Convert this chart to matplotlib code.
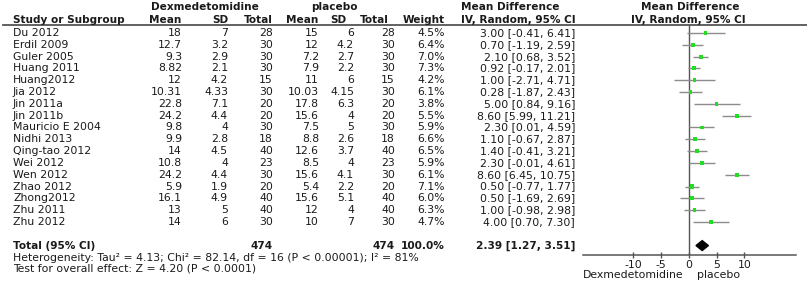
import numpy as np
import matplotlib.pyplot as plt

plt.rcParams['font.family'] = ['DejaVu Sans']
plt.rcParams['axes.unicode_minus'] = False

# 연구별 데이터
studies = ['Du 2012', 'Erdil 2009', 'Guler 2005', 'Huang 2011', 'Huang2012', 'Jia 2012',
           'Jin 2011a', 'Jin 2011b', 'Mauricio E 2004', 'Nidhi 2013', 'Qing-tao 2012',
           'Wei 2012', 'Wen 2012', 'Zhao 2012', 'Zhong2012', 'Zhu 2011', 'Zhu 2012']
dex_mean = ['18', '12.7', '9.3', '8.82', '12', '10.31', '22.8', '24.2', '9.8', '9.9',
            '14', '10.8', '24.2', '5.9', '16.1', '13', '14']
dex_sd = ['7', '3.2', '2.9', '2.1', '4.2', '4.33', '7.1', '4.4', '4', '2.8',
          '4.5', '4', '4.4', '1.9', '4.9', '5', '6']
dex_n = [28, 30, 30, 30, 15, 30, 20, 20, 30, 18, 40, 23, 30, 20, 40, 40, 30]
pla_mean = ['15', '12', '7.2', '7.9', '11', '10.03', '17.8', '15.6', '7.5', '8.8',
            '12.6', '8.5', '15.6', '5.4', '15.6', '12', '10']
pla_sd = ['6', '4.2', '2.7', '2.2', '6', '4.15', '6.3', '4', '5', '2.6',
          '3.7', '4', '4.1', '2.2', '5.1', '4', '7']
pla_n = [28, 30, 30, 30, 15, 30, 20, 20, 30, 18, 40, 23, 30, 20, 40, 40, 30]
weights = [4.5, 6.4, 7.0, 7.3, 4.2, 6.1, 3.8, 5.5, 5.9, 6.6, 6.5, 5.9, 6.1, 7.1, 6.0, 6.3, 4.7]
md = [3.00, 0.70, 2.10, 0.92, 1.00, 0.28, 5.00, 8.60, 2.30, 1.10, 1.40, 2.30, 8.60, 0.50, 0.50, 1.00, 4.00]
ci_lo = [-0.41, -1.19, 0.68, -0.17, -2.71, -1.87, 0.84, 5.99, 0.01, -0.67, -0.41, -0.01, 6.45, -0.77, -1.69, -0.98, 0.70]
ci_hi = [6.41, 2.59, 3.52, 2.01, 4.71, 2.43, 9.16, 11.21, 4.59, 2.87, 3.21, 4.61, 10.75, 1.77, 2.69, 2.98, 7.30]

# 통합 결과
total_dex, total_pla = 474, 474
total_weight = '100.0%'
pooled_md, pooled_lo, pooled_hi = 2.39, 1.27, 3.51
het_text = 'Heterogeneity: Tau² = 4.13; Chi² = 82.14, df = 16 (P < 0.00001); I² = 81%'
z_text = 'Test for overall effect: Z = 4.20 (P < 0.0001)'
ticks = [-10, -5, 0, 5, 10]

W, H = 807, 285
fs = 7.8
fsb = 7.6
tc = '#1a1a1a'
fig = plt.figure(figsize=(W / 100, H / 100), dpi=100)

# 텍스트용 축 (픽셀 좌표)
tx = fig.add_axes([0, 0, 1, 1])
tx.set_xlim(0, W)
tx.set_ylim(H, 0)
tx.axis('off')

row0, dy = 33, 11.81
bold = dict(fontweight='bold', fontsize=fsb, color=tc)
norm = dict(fontsize=fs, color=tc)

# 헤더
tx.text(205, 7, 'Dexmedetomidine', ha='center', va='center', **bold)
tx.text(334, 7, 'placebo', ha='center', va='center', **bold)
tx.text(510, 7, 'Mean Difference', ha='center', va='center', **bold)
tx.text(690, 7, 'Mean Difference', ha='center', va='center', **bold)
tx.text(13, 20, 'Study or Subgroup', ha='left', va='center', **bold)
for x, s in [(181, 'Mean'), (228, 'SD'), (273, 'Total'), (318, 'Mean'),
             (346, 'SD'), (389, 'Total'), (445, 'Weight')]:
    tx.text(x, 20, s, ha='right', va='center', **bold)
tx.text(518, 20, 'IV, Random, 95% CI', ha='center', va='center', **bold)
tx.text(688, 20, 'IV, Random, 95% CI', ha='center', va='center', **bold)
tx.plot([3, W], [24.5, 24.5], color='#555555', lw=1.3)

# 연구별 행
for i, name in enumerate(studies):
    y = row0 + i * dy
    tx.text(13, y, name, ha='left', va='center', **norm)
    tx.text(182, y, dex_mean[i], ha='right', va='center', **norm)
    tx.text(228, y, dex_sd[i], ha='right', va='center', **norm)
    tx.text(273, y, str(dex_n[i]), ha='right', va='center', **norm)
    tx.text(319, y, pla_mean[i], ha='right', va='center', **norm)
    tx.text(354, y, pla_sd[i], ha='right', va='center', **norm)
    tx.text(395, y, str(pla_n[i]), ha='right', va='center', **norm)
    tx.text(445, y, f'{weights[i]:.1f}%', ha='right', va='center', **norm)
    tx.text(575, y, f'{md[i]:.2f} [{ci_lo[i]:.2f}, {ci_hi[i]:.2f}]', ha='right', va='center', **norm)

# 합계 행
yt = row0 + 18 * dy
tx.text(13, yt, 'Total (95% CI)', ha='left', va='center', **bold)
tx.text(273, yt, str(total_dex), ha='right', va='center', **bold)
tx.text(395, yt, str(total_pla), ha='right', va='center', **bold)
tx.text(445, yt, total_weight, ha='right', va='center', **bold)
tx.text(575, yt, f'{pooled_md:.2f} [{pooled_lo:.2f}, {pooled_hi:.2f}]', ha='right', va='center', **bold)
tx.text(13, 258, het_text, ha='left', va='center', **norm)
tx.text(13, 268.5, z_text, ha='left', va='center', **norm)
tx.text(683, 275, 'Dexmedetomidine', ha='right', va='center', **norm)
tx.text(697, 275, 'placebo', ha='left', va='center', **norm)

# 포레스트 플롯 축
y_top = (24.5 - row0) / dy
y_bot = (255 - row0) / dy
ax = fig.add_axes([583 / W, 1 - 255 / H, 213 / W, (255 - 24.5) / H])
ax.set_xlim(-19.1, 19.3)
ax.set_ylim(y_bot, y_top)
ax.patch.set_alpha(0)
for sp in ['top', 'right', 'left']:
    ax.spines[sp].set_visible(False)
ax.spines['bottom'].set_color('#555555')
ax.spines['bottom'].set_linewidth(1.1)
ax.set_yticks([])
ax.set_xticks(ticks)
ax.set_xticklabels([str(t) for t in ticks])
ax.tick_params(axis='x', direction='inout', length=5, width=1, color='#555555',
               labelsize=fs, labelcolor=tc, pad=1)
ax.axvline(0, color='#555555', lw=1)

rows = np.arange(len(studies))
ax.hlines(rows, ci_lo, ci_hi, color='#8c8c8c', lw=1)
ax.scatter(md, rows, marker='s', s=3 + np.array(weights) * 0.8, color='#22dd22', zorder=3, linewidths=0)

# 통합 다이아몬드
yd = 18
ax.fill([pooled_lo, pooled_md, pooled_hi, pooled_md], [yd, yd - 0.42, yd, yd + 0.42],
        color='black', zorder=3)

fig.savefig('out.png', dpi=100)
